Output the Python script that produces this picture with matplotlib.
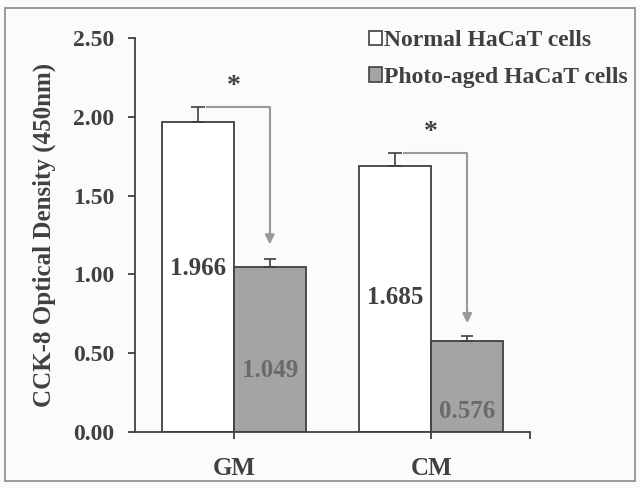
import numpy as np
import matplotlib.pyplot as plt
from matplotlib.patches import Rectangle, Patch

plt.rcParams['font.family'] = ['Liberation Serif', 'DejaVu Serif']
plt.rcParams['font.weight'] = 'bold'

# data
groups = ['GM', 'CM']
normal = [1.966, 1.685]
aged = [1.049, 0.576]
normal_err = [0.095, 0.085]
aged_err = [0.05, 0.035]
series = ['Normal HaCaT cells', 'Photo-aged HaCaT cells']
yticks = [0.0, 0.5, 1.0, 1.5, 2.0, 2.5]

dark = '#404040'
grey_txt = '#6a6a6a'
bar_grey = '#a3a4a6'
arrow_col = '#9a9a9a'

fig = plt.figure(figsize=(6.4, 4.88), dpi=100, facecolor='#fbfbfb')
fig.patches.append(Rectangle((0.008, 0.015), 0.984, 0.968, transform=fig.transFigure,
                             fill=False, edgecolor='#8a8a8a', lw=1.2))
ax = fig.add_axes([0.211, 0.115, 0.617, 0.807])
ax.set_facecolor('#fbfbfb')

x = np.arange(len(groups))
w = 0.365
ax.bar(x - w / 2, normal, w, color='white', edgecolor=dark, lw=1.3, zorder=2)
ax.bar(x + w / 2, aged, w, color=bar_grey, edgecolor=dark, lw=1.3, zorder=2)
ax.errorbar(x - w / 2, normal, yerr=[np.zeros(2), normal_err], fmt='none',
            ecolor=dark, elinewidth=1.2, capsize=5, capthick=1.2, zorder=3)
ax.errorbar(x + w / 2, aged, yerr=[np.zeros(2), aged_err], fmt='none',
            ecolor=dark, elinewidth=1.2, capsize=4, capthick=1.2, zorder=3)

# significance arrows
tips = [1.19, 0.69]
stars = [2.19, 1.90]
for i in range(len(groups)):
    top = normal[i] + normal_err[i]
    xs = x[i] - w / 2 + 0.045
    xe = x[i] + w / 2 + 0.0
    ax.plot([xs, xe, xe], [top, top, tips[i] + 0.05], color=arrow_col, lw=1.5, zorder=4)
    ax.annotate('', xy=(xe, tips[i]), xytext=(xe, tips[i] + 0.08),
                arrowprops=dict(arrowstyle='-|>', color=arrow_col, lw=1.5,
                                mutation_scale=14, shrinkA=0, shrinkB=0))
    ax.text(x[i], stars[i], '*', ha='center', va='center', fontsize=20,
            color=dark, fontweight='bold')

# value labels
lab_normal_y = [1.04, 0.85]
lab_aged_y = [0.39, 0.13]
for i in range(len(groups)):
    ax.text(x[i] - w / 2, lab_normal_y[i], f'{normal[i]:.3f}', ha='center', va='center',
            fontsize=18, color=dark, fontweight='bold', zorder=5)
    ax.text(x[i] + w / 2, lab_aged_y[i], f'{aged[i]:.3f}', ha='center', va='center',
            fontsize=18, color=grey_txt, fontweight='bold', zorder=5)

ax.set_xlim(-0.5, 1.5)
ax.set_ylim(0, 2.5)
ax.set_yticks(yticks)
ax.set_yticklabels([f'{t:.2f}' for t in yticks])
ax.set_xticks(x)
ax.set_xticklabels(groups)
ax.set_xticks([1.5], minor=True)
ax.tick_params(axis='y', colors=dark, labelsize=17, width=1.3, length=5, pad=10)
ax.tick_params(axis='x', which='both', direction='out', length=5, width=1.3, colors=dark,
               labelsize=18, pad=13)
for lab in ax.get_xticklabels() + ax.get_yticklabels():
    lab.set_fontweight('bold')
for s in ['top', 'right']:
    ax.spines[s].set_visible(False)
for s in ['left', 'bottom']:
    ax.spines[s].set_color(dark)
    ax.spines[s].set_linewidth(1.3)

ax.set_ylabel('CCK-8 Optical Density (450nm)', fontsize=18, fontweight='bold',
              color=dark, labelpad=12)

handles = [Patch(facecolor='white', edgecolor=dark, lw=1.2),
           Patch(facecolor=bar_grey, edgecolor=dark, lw=1.2)]
leg = fig.legend(handles, series, loc='upper left', bbox_to_anchor=(0.562, 0.957),
                 frameon=False, fontsize=17, handlelength=0.55, handleheight=0.55,
                 handletextpad=0.1, labelspacing=0.65, borderaxespad=0)
for t in leg.get_texts():
    t.set_color(dark)
    t.set_fontweight('bold')

fig.savefig('out.png', dpi=100, facecolor=fig.get_facecolor())
